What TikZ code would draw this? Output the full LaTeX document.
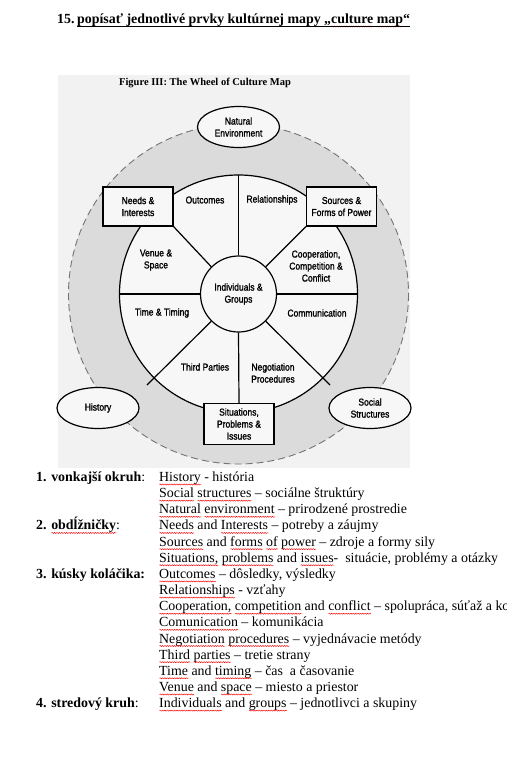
\documentclass[tikz,border=0pt]{standalone}
\usepackage{fontspec}
\setmainfont{Liberation Serif}
\newfontfamily\figfont[FakeStretch=0.85,FakeBold=1.4]{Liberation Sans}
\usetikzlibrary{shapes.geometric,decorations.pathmorphing}
\newsavebox\wvbox
\newlength\wvlen
\newcommand\wv[1]{\sbox\wvbox{#1}\setlength\wvlen{\wd\wvbox}\rlap{\usebox\wvbox}\makebox[\wvlen][l]{\raisebox{-3pt}[0pt][0pt]{\tikz[x=1pt,y=1pt,baseline=0pt]\draw[red,line width=0.45pt,decorate,decoration={snake,amplitude=0.55pt,segment length=2.4pt}] (0,0) -- (\the\wvlen,0);}}}
\definecolor{bgscan}{gray}{0.95}
\definecolor{ringgray}{gray}{0.86}
\definecolor{innerfill}{gray}{0.97}
\definecolor{dashgray}{gray}{0.45}
\tikzset{
  figtext/.style={font=\figfont\fontsize{10}{12}\selectfont, align=center, inner sep=0pt},
  boxn/.style={figtext, draw, line width=1.2pt, fill=innerfill, minimum width=70, minimum height=39},
  elln/.style={figtext, ellipse, draw, line width=1.2pt, fill=innerfill, minimum width=82, minimum height=41},
  spoke/.style={line width=1.2pt},
  body/.style={anchor=base west, inner sep=0pt, font=\fontsize{13.9}{16}\selectfont},
  head/.style={anchor=base west, inner sep=0pt, font=\bfseries\fontsize{13.9}{16}\selectfont}
}
\begin{document}
\begin{tikzpicture}[x=1pt,y=-1pt]
\useasboundingbox (0,0) rectangle (506,771);
\clip (0,0) rectangle (506,771);
% title
\node[head] (tnum) at (57,23.5) {15.};
\node[head] (ttext) at (77,23.5) {popísať jednotlivé prvky kultúrnej mapy „\wv{culture} \wv{map}“};
\draw[line width=0.8pt] ([yshift=-2.5pt]ttext.base west) -- ([yshift=-2.5pt]ttext.base east);
% scanned figure background
\fill[bgscan] (58,75) rectangle (410,468);
\node[font=\bfseries\fontsize{10.5}{12}\selectfont, inner sep=0pt] (ftitle) at (205,83) {Figure III: The Wheel of Culture Map};
\coordinate (c) at (238.5,294);
\fill[ringgray] (c) circle[radius=170];
\draw[dashgray, line width=0.9pt, dash pattern=on 7pt off 4pt] (c) circle[radius=170];
\fill[innerfill] (c) circle[radius=119];
\draw[line width=1.2pt] (c) circle[radius=119];
% nodes
\node[circle, draw, line width=1.2pt, fill=innerfill, minimum size=76, figtext] (ind) at (c) {Individuals \&\\Groups};
\node[boxn] (needs) at (138,206.5) {Needs \&\\Interests};
\node[boxn] (power) at (341.5,206.5) {Sources \&\\Forms of Power};
\node[boxn, minimum height=41] (sit) at (239,424) {Situations,\\Problems \&\\Issues};
\node[elln] (nat) at (238.5,127) {Natural\\Environment};
\node[elln] (hist) at (98,408) {History};
\node[elln] (soc) at (370,408) {Social\\Structures};
\coordinate (top) at (238.5,175);
\coordinate (wl) at (119.5,294);
\coordinate (wr) at (357.5,294);
\coordinate (ll) at (147,385);
\coordinate (lr) at (330,385);
% spokes
\draw[spoke] (ind.north) -- (top);
\draw[spoke] (ind.west) -- (wl);
\draw[spoke] (ind.east) -- (wr);
\draw[spoke] (ind.135) -- (needs.south east);
\draw[spoke] (ind.45) -- (power.south west);
\draw[spoke] (ind.225) -- (ll);
\draw[spoke] (ind.-45) -- (lr);
\draw[spoke] (ind.south) -- (sit.north);
% sector labels
\node[figtext] (outc) at (205,200) {Outcomes};
\node[figtext] (rel) at (272,200) {Relationships};
\node[figtext] (venue) at (156,260) {Venue \&\\Space};
\node[figtext] (coop) at (316,266) {Cooperation,\\Competition \&\\Conflict};
\node[figtext] (time) at (162,313) {Time \& Timing};
\node[figtext] (comm) at (317,313) {Communication};
\node[figtext] (third) at (205,367) {Third Parties};
\node[figtext] (nego) at (273,373) {Negotiation\\Procedures};
% text list
\node[head] (h1) at (36,481.5) {1. vonkajší okruh\mdseries:};
\node[body] (l0) at (159,481.5) {\wv{History} - história};
\node[body] (l1) at (159,497.65) {\wv{Social} \wv{structures} – sociálne štruktúry};
\node[body] (l2) at (159,513.8) {\wv{Natural} \wv{environment} – prirodzené prostredie};
\node[head] (h2) at (36,529.95) {2. \wv{obdĺžničky}\mdseries:};
\node[body] (l3) at (159,529.95) {\wv{Needs} and \wv{Interests} – potreby a záujmy};
\node[body] (l4) at (159,546.1) {\wv{Sources} and \wv{forms} \wv{of} \wv{power} – zdroje a formy sily};
\node[body] (l5) at (159,562.25) {\wv{Situations,} \wv{problems} and \wv{issues}-\ \ situácie, problémy a otázky};
\node[head] (h3) at (36,578.4) {3. kúsky koláčika:};
\node[body] (l6) at (159,578.4) {\wv{Outcomes} – dôsledky, výsledky};
\node[body] (l7) at (159,594.55) {\wv{Relationships} - vzťahy};
\node[body] (l8) at (159,610.7) {\wv{Cooperation,} \wv{competition} and \wv{conflict} – spolupráca, súťaž a ko};
\node[body] (l9) at (159,626.85) {\wv{Comunication} – komunikácia};
\node[body] (l10) at (159,643.0) {\wv{Negotiation} \wv{procedures} – vyjednávacie metódy};
\node[body] (l11) at (159,659.15) {\wv{Third} \wv{parties} – tretie strany};
\node[body] (l12) at (159,675.3) {\wv{Time} and \wv{timing} – čas\ \ a časovanie};
\node[body] (l13) at (159,691.45) {\wv{Venue} and \wv{space} – miesto a priestor};
\node[head] (h4) at (36,707.6) {4. stredový kruh\mdseries:};
\node[body] (l14) at (159,707.6) {\wv{Individuals} and \wv{groups} – jednotlivci a skupiny};
\end{tikzpicture}
\end{document}
